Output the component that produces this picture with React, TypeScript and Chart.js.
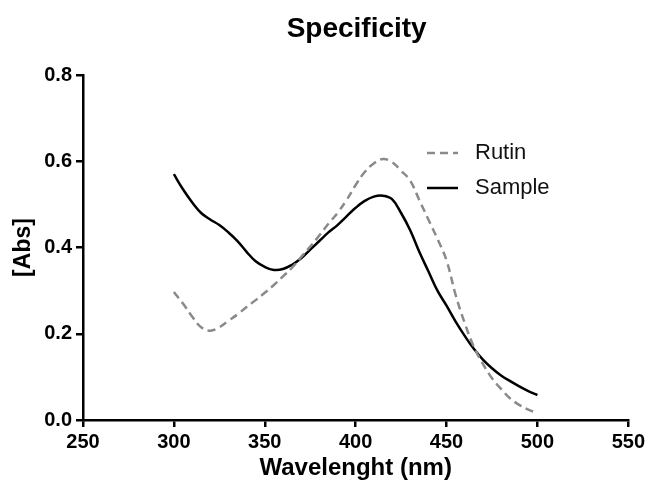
import React, { useEffect, useRef } from "react";
import { Chart, registerables } from "chart.js";

Chart.register(...registerables);

const wavelengths = [300, 305, 310, 315, 320, 325, 330, 335, 340, 345, 350, 355, 360, 365, 370, 375, 380, 385, 390, 395, 400, 405, 410, 415, 420, 425, 430, 435, 440, 445, 450, 455, 460, 465, 470, 475, 480, 485, 490, 495, 500];

const rutin = [0.297, 0.27, 0.24, 0.215, 0.207, 0.215, 0.23, 0.245, 0.262, 0.278, 0.295, 0.313, 0.333, 0.353, 0.378, 0.402, 0.428, 0.455, 0.48, 0.51, 0.545, 0.575, 0.595, 0.605, 0.598, 0.578, 0.555, 0.51, 0.465, 0.42, 0.37, 0.29, 0.225, 0.17, 0.13, 0.097, 0.072, 0.05, 0.035, 0.024, 0.016];

const sample = [0.57, 0.535, 0.505, 0.48, 0.465, 0.452, 0.435, 0.415, 0.39, 0.368, 0.355, 0.348, 0.35, 0.36, 0.375, 0.395, 0.415, 0.435, 0.452, 0.472, 0.492, 0.508, 0.518, 0.52, 0.512, 0.48, 0.44, 0.39, 0.345, 0.3, 0.265, 0.228, 0.195, 0.165, 0.14, 0.12, 0.103, 0.09, 0.078, 0.067, 0.058];

const seriesNames = ["Rutin", "Sample"];
const xTicks = [250, 300, 350, 400, 450, 500, 550];
const yTicks = [0.0, 0.2, 0.4, 0.6, 0.8];
const titleText = "Specificity";
const xTitle = "Wavelenght (nm)";
const yTitle = "[Abs]";

const FONT = "'Liberation Sans', Arial, Helvetica, sans-serif";

export default function App() {
  const ref = useRef<HTMLCanvasElement | null>(null);

  useEffect(() => {
    if (!ref.current) return;
    const overlay = {
      id: "overlay",
      afterDraw(chart: any) {
        const ctx = chart.ctx;
        const ca = chart.chartArea;
        ctx.save();
        // title
        ctx.fillStyle = "#000";
        ctx.font = `bold 28px ${FONT}`;
        ctx.textAlign = "center";
        ctx.textBaseline = "alphabetic";
        ctx.fillText(titleText, (ca.left + ca.right) / 2 + 1, 37);
        // legend
        const items = [
          { label: seriesNames[0], color: "#8a8a8a", dash: [8, 5], y: 153 },
          { label: seriesNames[1], color: "#000", dash: [], y: 188 },
        ];
        items.forEach((it) => {
          ctx.beginPath();
          ctx.setLineDash(it.dash);
          ctx.strokeStyle = it.color;
          ctx.lineWidth = 2.5;
          ctx.moveTo(427, it.y);
          ctx.lineTo(458, it.y);
          ctx.stroke();
          ctx.setLineDash([]);
          ctx.fillStyle = "#111";
          ctx.font = `22px ${FONT}`;
          ctx.textAlign = "left";
          ctx.textBaseline = "middle";
          ctx.fillText(it.label, 475, it.y);
        });
        ctx.restore();
      },
    };

    const chart = new Chart(ref.current, {
      type: "line",
      data: {
        labels: wavelengths,
        datasets: [
          {
            label: seriesNames[0],
            data: wavelengths.map((w, i) => ({ x: w, y: rutin[i] })),
            borderColor: "#8a8a8a",
            borderWidth: 2.5,
            borderDash: [8, 5],
            pointRadius: 0,
            tension: 0.4,
            fill: false,
          },
          {
            label: seriesNames[1],
            data: wavelengths.map((w, i) => ({ x: w, y: sample[i] })),
            borderColor: "#000",
            borderWidth: 2.5,
            pointRadius: 0,
            tension: 0.4,
            fill: false,
          },
        ],
      },
      options: {
        animation: false,
        responsive: false,
        devicePixelRatio: 1,
        layout: { padding: { top: 75, right: 18, bottom: 0, left: 0 } },
        plugins: {
          legend: { display: false },
          title: { display: false },
          tooltip: { enabled: false },
        },
        scales: {
          x: {
            type: "linear",
            min: 250,
            max: 550,
            afterBuildTicks: (scale: any) => {
              scale.ticks = xTicks.map((v) => ({ value: v }));
            },
            afterFit: (scale: any) => {
              scale.height = 66;
            },
            ticks: {
              color: "#000",
              font: { family: FONT, size: 20, weight: "bold" },
              padding: 3,
              maxRotation: 0,
              autoSkip: false,
            },
            grid: {
              drawOnChartArea: false,
              drawTicks: true,
              tickLength: 7,
              color: "#000",
              lineWidth: 2.5,
            },
            border: { display: true, color: "#000", width: 2.5 },
            title: {
              display: true,
              text: xTitle,
              color: "#000",
              font: { family: FONT, size: 24, weight: "bold" },
              padding: { top: 0, bottom: 3 },
            },
          },
          y: {
            type: "linear",
            min: 0,
            max: 0.8,
            afterBuildTicks: (scale: any) => {
              scale.ticks = yTicks.map((v) => ({ value: v }));
            },
            afterFit: (scale: any) => {
              scale.width = 83;
            },
            ticks: {
              color: "#000",
              font: { family: FONT, size: 20, weight: "bold" },
              padding: 4,
              callback: (v: any) => Number(v).toFixed(1),
            },
            grid: {
              drawOnChartArea: false,
              drawTicks: true,
              tickLength: 7,
              color: "#000",
              lineWidth: 2.5,
            },
            border: { display: true, color: "#000", width: 2.5 },
            title: {
              display: true,
              text: yTitle,
              color: "#000",
              font: { family: FONT, size: 23, weight: "bold" },
              padding: { top: 10, bottom: 0 },
            },
          },
        },
      },
      plugins: [overlay],
    } as any);

    return () => chart.destroy();
  }, []);

  return (
    <div style={{ position: "fixed", left: 0, top: 0, width: 648, height: 486, background: "#fff" }}>
      <canvas ref={ref} width={648} height={486} style={{ width: 648, height: 486, display: "block" }} />
    </div>
  );
}
